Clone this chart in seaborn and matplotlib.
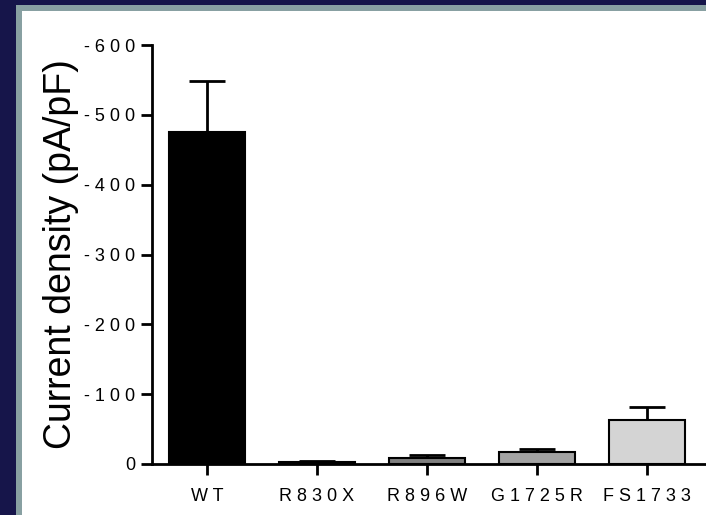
import matplotlib
matplotlib.use("Agg")
import matplotlib.pyplot as plt
import seaborn as sns
import pandas as pd
from matplotlib.patches import Rectangle

categories = ["WT", "R830X", "R896W", "G1725R", "FS1733"]
values = [-475, -3, -9, -17, -63]
errors = [74, 1.5, 3.5, 4, 19]
bar_colors = ["#000000", "#5a5a5a", "#808080", "#a3a3a3", "#d4d4d4"]
yticks = [0, -100, -200, -300, -400, -500, -600]

sns.set_theme(style="white")
plt.rcParams["font.family"] = ["Liberation Sans", "DejaVu Sans"]

fig = plt.figure(figsize=(7.06, 5.15), dpi=100, facecolor="#16154a")
W, H = 706, 515
fig.patches.append(Rectangle((16 / W, 0), 1, 1 - 5 / H, transform=fig.transFigure,
                             facecolor="#88a0a2", edgecolor="none", zorder=-10))
fig.patches.append(Rectangle((22 / W, 0), 1, 1 - 11 / H, transform=fig.transFigure,
                             facecolor="white", edgecolor="none", zorder=-9))

ax = fig.add_axes([152 / W, 1 - 464 / H, (705 - 152) / W, (464 - 45) / H])
ax.set_facecolor("none")

df = pd.DataFrame({"genotype": categories, "density": values})
sns.barplot(data=df, x="genotype", y="density", hue="genotype", palette=bar_colors,
            order=categories, errorbar=None, width=0.69, edgecolor="black",
            linewidth=1.5, legend=False, ax=ax, zorder=2)

ax.errorbar(range(len(categories)), values, yerr=[errors, [0] * len(errors)],
            fmt="none", ecolor="black", elinewidth=2, capsize=13, capthick=2, zorder=1)

ax.set_ylim(0, -600)
ax.set_xlim(-0.5, 4.53)
ax.set_yticks(yticks)
ax.set_yticklabels([" ".join(str(t)) for t in yticks], fontsize=13)
ax.set_xticks(range(len(categories)))
ax.set_xticklabels([" ".join(c) for c in categories], fontsize=13)
ax.set_xlabel("")
ax.set_ylabel("Current density (pA/pF)", fontsize=27, color="black", labelpad=4)

for s in ["top", "right"]:
    ax.spines[s].set_visible(False)
for s in ["left", "bottom"]:
    ax.spines[s].set_color("black")
    ax.spines[s].set_linewidth(2)
    ax.spines[s].set_zorder(3)

ax.tick_params(axis="y", which="major", left=True, length=8, width=2, color="black",
               pad=4, labelcolor="black")
ax.tick_params(axis="x", which="major", bottom=True, length=8, width=2, color="black",
               pad=9, labelcolor="black")

fig.savefig("out.png", dpi=100, facecolor=fig.get_facecolor())
